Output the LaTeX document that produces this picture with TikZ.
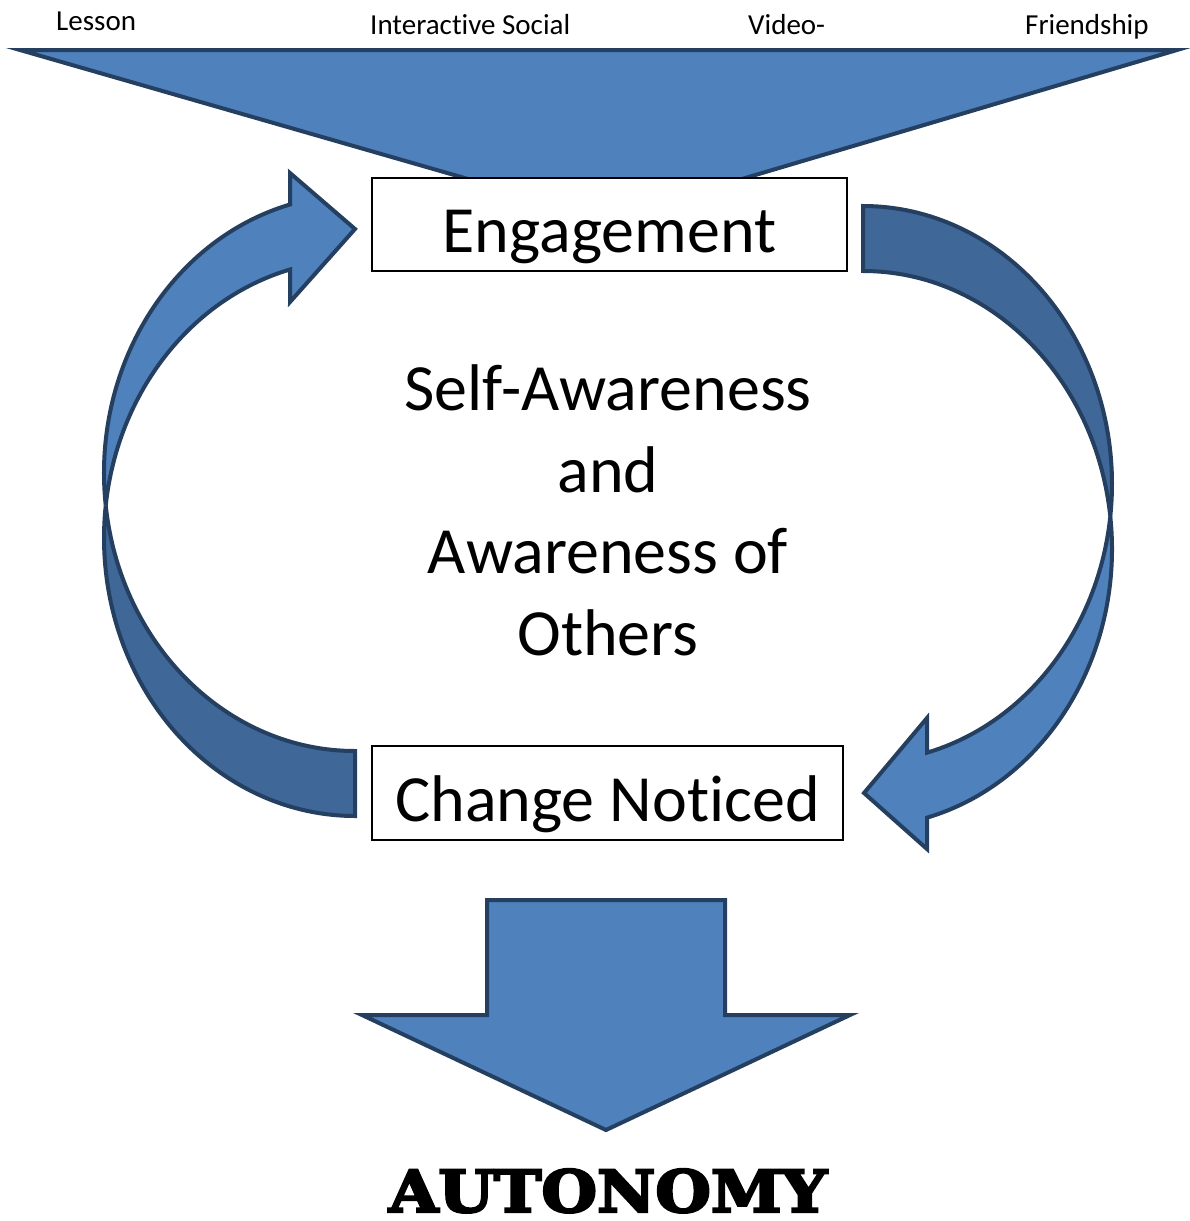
\documentclass[tikz,border=0pt]{standalone}
\usepackage{fontspec}
\usepackage{graphicx}
\setmainfont{Carlito}[Ligatures=NoCommon]
\newfontfamily\slabfont[FakeBold=4]{DejaVu Serif}
\usetikzlibrary{calc}

\definecolor{faceblue}{HTML}{4F81BD}
\definecolor{backblue}{HTML}{3F6797}
\definecolor{edgeblue}{HTML}{243F60}

\begin{document}
\begin{tikzpicture}[x=1pt,y=1pt,line join=miter,
  shapeface/.style={fill=faceblue,draw=edgeblue,line width=4pt},
  shapeback/.style={fill=backblue,draw=edgeblue,line width=4pt},
  stagebox/.style={draw=black,line width=2pt,fill=white,inner sep=0pt,
    font=\fontsize{66}{79}\selectfont,text height=65pt,text depth=9pt},
  toplabel/.style={anchor=base west,inner sep=0pt,font=\fontsize{29}{34}\selectfont},
  bigtext/.style={anchor=base,inner sep=0pt,align=center,font=\fontsize{66}{81.5}\selectfont}]
\useasboundingbox (0,0) rectangle (1190,-1221);

% input labels above the funnel
\node[toplabel] (lesson) at (56,-30) {Lesson};
\node[toplabel] (social) at (370,-34) {Interactive Social};
\node[toplabel] (video) at (748,-34) {Video-};
\node[toplabel] (friend) at (1025,-34) {Friendship};

% funnel
\draw[shapeface] (20,-50) -- (1177,-50) -- (607,-219) -- cycle;

% left curved arrow (up, pointing right into Engagement)
\coordinate (lo) at (355,-538);
\coordinate (li) at (355,-473);
\draw[shapeback] ($(lo)+(270:251 and 278)$)
  arc[start angle=270,end angle=173.3,x radius=251,y radius=278]
  -- ($(li)+(186.7:251 and 278)$)
  arc[start angle=186.7,end angle=270,x radius=251,y radius=278] -- cycle;
\draw[shapeface] ($(lo)+(173.3:251 and 278)$)
  arc[start angle=173.3,end angle=105,x radius=251,y radius=278]
  -- (290,-302) -- (355,-229) -- (290,-173)
  -- ($(li)+(105:251 and 278)$)
  arc[start angle=105,end angle=186.7,x radius=251,y radius=278] -- cycle;

% right curved arrow (down, pointing left into Change Noticed)
\coordinate (ro) at (863,-484);
\coordinate (ri) at (863,-549);
\draw[shapeback] ($(ro)+(90:249 and 278)$)
  arc[start angle=90,end angle=-6.75,x radius=249,y radius=278]
  -- ($(ri)+(6.75:249 and 278)$)
  arc[start angle=6.75,end angle=90,x radius=249,y radius=278] -- cycle;
\draw[shapeface] ($(ro)+(-6.75:249 and 278)$)
  arc[start angle=-6.75,end angle=-75.1,x radius=249,y radius=278]
  -- (927,-718) -- (864,-793) -- (927,-849)
  -- ($(ri)+(-75.1:249 and 278)$)
  arc[start angle=-75.1,end angle=6.75,x radius=249,y radius=278] -- cycle;

% stages
\node[stagebox,minimum width=475pt,minimum height=93pt] (engage) at (609.5,-224.5) {Engagement};
\node[stagebox,minimum width=471pt,minimum height=94pt] (change) at (607.5,-793) {Change Noticed};

% centre text (anchored at the baseline of its last line)
\node[bigtext] (aware) at (608,-655) {Self-Awareness\\and\\Awareness of\\Others};

% down arrow
\draw[shapeface] (487,-900) -- (725,-900) -- (725,-1015) -- (850,-1015)
  -- (606,-1130) -- (362,-1015) -- (487,-1015) -- cycle;

% result
\node[anchor=base,inner sep=0pt] (result) at (608,-1212)
  {\slabfont\bfseries\fontsize{58}{60}\selectfont\scalebox{1.10}[1]{AUTONOMY}};
\end{tikzpicture}
\end{document}
